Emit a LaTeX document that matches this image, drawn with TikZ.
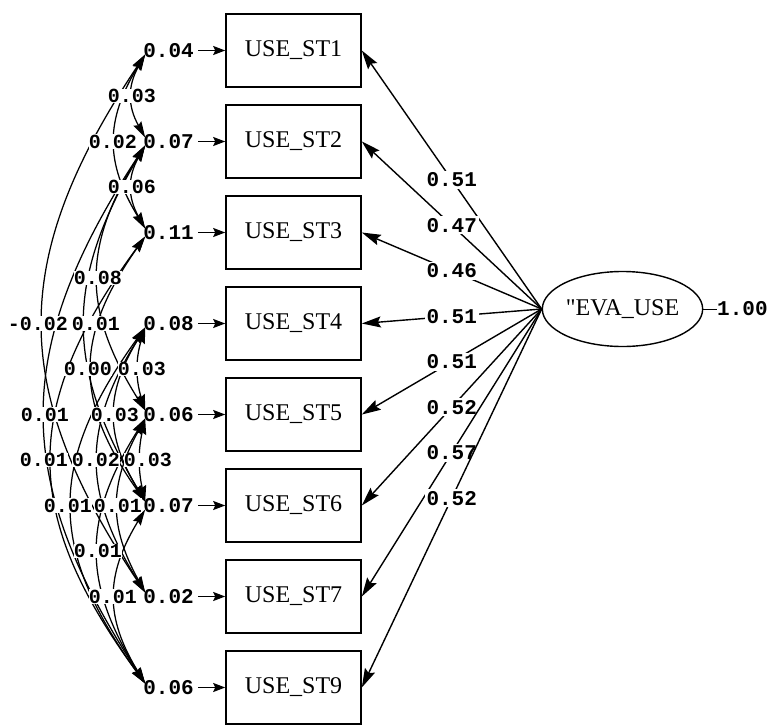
\documentclass[tikz,border=0pt]{standalone}
\usepackage{fontspec}
\setmainfont{Liberation Serif}
\newfontfamily\numfont{Liberation Mono}
\usetikzlibrary{arrows.meta,shapes.geometric}
\newcommand\covline[3]{%
  \pgfmathsetmacro\cvya{50.5+91*(#1-1)+4}%
  \pgfmathsetmacro\cvyb{50.5+91*(#2-1)-4}%
  \pgfmathsetmacro\cvcc{(8*#3-291)/6}%
  \pgfmathsetmacro\cvka{\cvya+0.38*(\cvyb-\cvya)}%
  \pgfmathsetmacro\cvkb{\cvyb-0.38*(\cvyb-\cvya)}%
  \draw[covarrow] ([shift={(2,4)}]e#1.west) .. controls (\cvcc,\cvka) and (\cvcc,\cvkb) .. ([shift={(2,-4)}]e#2.west);%
}
\newcommand\covtext[5]{%
  \pgfmathsetmacro\cvym{(50.5+91*(#1-1)+50.5+91*(#2-1))/2}%
  \node[covlab] (#5) at (#3,\cvym) {#4};%
}
\begin{document}
\begin{tikzpicture}[x=1pt,y=-1pt,
  obsbox/.style={draw,line width=1.6pt,minimum width=135pt,minimum height=73pt,inner sep=0pt,font=\fontsize{24}{28}\selectfont},
  numlab/.style={font=\numfont\bfseries\fontsize{21}{24}\selectfont,inner sep=0pt},
  loadlab/.style={numlab,fill=white,inner sep=2pt},
  covlab/.style={numlab,font=\numfont\bfseries\fontsize{20}{24}\selectfont,fill=white,inner sep=0.3pt},
  loadarrow/.style={line width=1.4pt,-{Stealth[length=19pt,width=11pt,inset=3pt]}},
  errarrow/.style={line width=1.4pt,-{Stealth[length=12pt,width=9pt,inset=2pt]}},
  covarrow/.style={line width=1.25pt,{Stealth[length=16pt,width=9pt,inset=2pt]}-{Stealth[length=16pt,width=9pt,inset=2pt]}},
]
\useasboundingbox[fill=white] (0,0) rectangle (776,725);

% observed variables
\foreach \i/\t in {1/USE\_ST1,2/USE\_ST2,3/USE\_ST3,4/USE\_ST4,5/USE\_ST5,6/USE\_ST6,7/USE\_ST7,8/USE\_ST9}
  \node[obsbox] (b\i) at (293.5,{50.5+91*(\i-1)}) {\t};

% error variances
\foreach \i/\v in {1/0.04,2/0.07,3/0.11,4/0.08,5/0.06,6/0.07,7/0.02,8/0.06}{
  \node[numlab,anchor=east] (e\i) at (194,{50.5+91*(\i-1)}) {\v};
  \draw[errarrow] ([xshift=4pt]e\i.east) -- (b\i.west);
}

% latent variable
\node[draw,ellipse,line width=1.4pt,minimum width=135pt,minimum height=75pt,inner sep=0pt,font=\fontsize{24}{28}\selectfont] (eva) at (622.5,309) {\textquotedbl EVA\_USE};
\node[numlab,anchor=west] (r) at (717,309) {1.00};
\draw[line width=0.6pt] (eva.east) -- (r.west);

% loadings
\foreach \i/\v in {1/0.51,2/0.47,3/0.46,4/0.51,5/0.51,6/0.52,7/0.57,8/0.52}
  \draw[loadarrow] (eva.west) -- node[loadlab,pos=0.5] (l\i) {\v} (b\i.east);

% error covariances
\covline{1}{2}{132}
\covline{1}{3}{115}
\covline{2}{3}{132}
\covline{2}{5}{98}
\covline{2}{6}{85}
\covline{1}{7}{43}
\covline{3}{6}{92}
\covline{4}{5}{138}
\covline{2}{8}{45}
\covline{4}{6}{115}
\covline{5}{6}{140}
\covline{4}{7}{98}
\covline{3}{8}{52}
\covline{5}{7}{118}
\covline{4}{8}{72}
\covline{5}{8}{98}
\covline{6}{8}{115}

\covtext{1}{2}{132}{0.03}{c12}
\covtext{1}{3}{113}{0.02}{c13}
\covtext{2}{3}{132}{0.06}{c23}
\covtext{2}{5}{98}{0.08}{c25}
\covtext{1}{7}{38}{-0.02}{c17}
\covtext{2}{6}{96}{0.01}{c26}
\covtext{3}{6}{88}{0.00}{c36}
\covtext{4}{5}{142}{0.03}{c45}
\covtext{2}{8}{45}{0.01}{c28}
\covtext{4}{6}{115}{0.03}{c46}
\covtext{3}{8}{44}{0.01}{c38}
\covtext{4}{7}{96}{0.02}{c47}
\covtext{5}{6}{148}{0.03}{c56}
\covtext{4}{8}{68}{0.01}{c48}
\covtext{5}{7}{118}{0.01}{c57}
\covtext{5}{8}{98}{0.01}{c58}
\covtext{6}{8}{113}{0.01}{c68}
\end{tikzpicture}
\end{document}
